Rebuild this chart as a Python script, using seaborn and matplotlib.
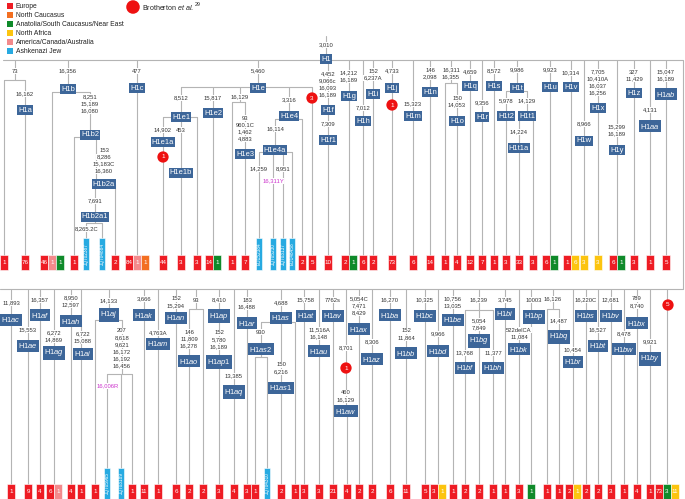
import re
import matplotlib
matplotlib.use("Agg")
import matplotlib.pyplot as plt
import seaborn as sns

# regions (legend order) and colours
region_codes = ["E", "C", "A", "N", "M", "J"]
region_names = ["Europe", "North Caucasus", "Anatolia/South Caucasus/Near East",
                "North Africa", "America/Canada/Australia", "Ashkenazi Jew"]
region_colors = ["#ee1c24", "#f36f21", "#0f8a2a", "#fcc40f", "#f38a8c", "#27aae1"]
color_of = dict(zip(region_codes, region_colors))

# ---------------- upper tree: (id, parent, label, mutations) ----------------
top_nodes = [
    ("H1", None, "H1", ["3,010"]),
    ("n73", "H1", "", ["73"]),
    ("H1a", "n73", "H1a", ["16,162"]),
    ("H1b", "H1", "H1b", ["16,356"]),
    ("H1b2", "H1b", "H1b2", ["8,251", "15,189", "16,080"]),
    ("H1b2a", "H1b2", "H1b2a", ["153", "8,286", "15,183C", "16,360"]),
    ("H1b2a1", "H1b2a", "H1b2a1", ["7,691"]),
    ("H1c", "H1", "H1c", ["477"]),
    ("H1e", "H1", "H1e", ["5,460"]),
    ("H1e1", "H1e", "H1e1", ["8,512"]),
    ("H1e1a", "H1e1", "H1e1a", ["14,902"]),
    ("H1e1b", "H1e1", "H1e1b", ["453"]),
    ("H1e2", "H1e", "H1e2", ["15,817"]),
    ("n16129", "H1e", "", ["16,129"]),
    ("H1e3", "n16129", "H1e3", ["93", "960.1C", "1,462", "4,883"]),
    ("H1e4", "H1e", "H1e4", ["3,316"]),
    ("H1e4a", "H1e4", "H1e4a", ["16,114"]),
    ("H1f", "H1", "H1f", ["4,452", "9,066c", "16,093", "16,189"]),
    ("H1f1", "H1f", "H1f1", ["7,309"]),
    ("H1g", "H1", "H1g", ["14,212", "16,189"]),
    ("H1h", "H1", "H1h", ["7,012"]),
    ("H1i", "H1", "H1i", ["152", "6,237A"]),
    ("H1j", "H1", "H1j", ["4,733"]),
    ("H1m", "H1", "H1m", ["15,323"]),
    ("H1n", "H1", "H1n", ["146", "2,098"]),
    ("n16311", "H1", "", ["16,311", "16,355"]),
    ("H1o", "n16311", "H1o", ["150", "14,053"]),
    ("H1q", "H1", "H1q", ["4,659"]),
    ("H1r", "H1", "H1r", ["9,356"]),
    ("H1s", "H1", "H1s", ["8,572"]),
    ("H1t", "H1", "H1t", ["9,986"]),
    ("H1t2", "H1t", "H1t2", ["5,978"]),
    ("H1t1", "H1t", "H1t1", ["14,129"]),
    ("H1t1a", "H1t1", "H1t1a", ["14,224"]),
    ("H1u", "H1", "H1u", ["9,923"]),
    ("H1v", "H1", "H1v", ["10,314"]),
    ("H1w", "H1", "H1w", ["8,966"]),
    ("H1x", "H1", "H1x", ["7,705", "10,410A", "16,037", "16,256"]),
    ("H1y", "H1", "H1y", ["15,299", "16,189"]),
    ("H1z", "H1", "H1z", ["327", "11,429"]),
    ("H1aa", "H1", "H1aa", ["4,131"]),
    ("H1ab", "H1", "H1ab", ["15,047", "16,189"]),
]

top_leaf_parent = ["n73", "H1a", "H1b", "H1b2", "H1b2a1", "H1b2a1", "H1b2a", "H1c", "H1e1a", "H1e1b",
                   "H1e1", "H1e2", "n16129", "H1e3", "H1e4a", "H1e4a", "H1e4a", "H1e4a", "H1e4", "H1e",
                   "H1f1", "H1g", "H1h", "H1i", "H1j", "H1m", "H1n", "n16311", "H1o", "H1q",
                   "H1r", "H1s", "H1t2", "H1t1a", "H1t1", "H1u", "H1v", "H1w", "H1x", "H1y",
                   "H1z", "H1aa", "H1ab"]
top_leaf_counts = [[1], [76], [46, 1, 1], [1], ["JQ702387"], ["JQ704884"], [2], [84, 1, 1], [44], [3],
                   [3], [14, 1], [1], [7], ["EU152384"], ["JQ705230"], ["JQ703137"], ["EU148458"], [2], [5],
                   [10], [2, 1], [6], [2], [73], [6], [14], [1], [4], [12],
                   [7], [1], [3], [33], [3], [6, 1], [1, 6], [3], [3], [6, 1],
                   [3], [1], [5]]
top_leaf_regions = ["E", "E", "EMA", "E", "J", "J", "E", "EMC", "E", "E",
                    "E", "EA", "E", "E", "J", "J", "J", "J", "E", "E",
                    "E", "EA", "E", "E", "E", "E", "E", "E", "E", "E",
                    "E", "E", "E", "E", "E", "EA", "EN", "N", "N", "EA",
                    "E", "E", "E"]

# ---------------- lower tree ----------------
low_nodes = [
    ("H1L", None, "", []),
    ("H1ac", "H1L", "H1ac", ["11,893"]),
    ("H1ae", "H1L", "H1ae", ["15,553"]),
    ("H1af", "H1L", "H1af", ["16,357"]),
    ("H1ag", "H1L", "H1ag", ["6,272", "14,869"]),
    ("H1ah", "H1L", "H1ah", ["8,950", "12,597"]),
    ("H1ai", "H1L", "H1ai", ["6,722", "15,088"]),
    ("H1aj", "H1L", "H1aj", ["14,133"]),
    ("n207", "H1aj", "", ["207", "8,618", "9,621", "16,172", "16,192", "16,456"]),
    ("H1ak", "H1L", "H1ak", ["3,666"]),
    ("H1am", "H1L", "H1am", ["4,763A"]),
    ("H1an", "H1L", "H1an", ["152", "15,294"]),
    ("n93", "H1L", "", ["93"]),
    ("H1ao", "n93", "H1ao", ["146", "11,809", "16,278"]),
    ("H1ap", "H1L", "H1ap", ["8,410"]),
    ("H1ap1", "H1ap", "H1ap1", ["152", "5,780", "16,189"]),
    ("H1aq", "H1L", "H1aq", ["13,385"]),
    ("H1ar", "H1L", "H1ar", ["183", "16,488"]),
    ("H1as", "H1L", "H1as", ["4,688"]),
    ("H1as2", "H1as", "H1as2", ["930"]),
    ("H1as1", "H1as", "H1as1", ["150", "6,216"]),
    ("H1at", "H1L", "H1at", ["15,758"]),
    ("H1au", "H1L", "H1au", ["11,516A", "16,148"]),
    ("H1av", "H1L", "H1av", ["7762s"]),
    ("n8701", "H1L", "", ["8,701"]),
    ("H1aw", "n8701", "H1aw", ["460", "16,129"]),
    ("H1ax", "H1L", "H1ax", ["5,054C", "7,471", "8,429"]),
    ("H1az", "H1L", "H1az", ["8,306"]),
    ("H1ba", "H1L", "H1ba", ["16,270"]),
    ("H1bb", "H1L", "H1bb", ["152", "11,864"]),
    ("H1bc", "H1L", "H1bc", ["10,325"]),
    ("H1bd", "H1L", "H1bd", ["9,966"]),
    ("H1be", "H1L", "H1be", ["10,756", "13,035"]),
    ("n16239", "H1L", "", ["16,239"]),
    ("H1bf", "n16239", "H1bf", ["13,768"]),
    ("H1bg", "n16239", "H1bg", ["5,054", "7,849"]),
    ("H1bh", "n16239", "H1bh", ["11,377"]),
    ("H1bi", "H1L", "H1bi", ["3,745"]),
    ("H1bk", "H1L", "H1bk", ["522delCA", "11,084"]),
    ("H1bp", "H1L", "H1bp", ["10003"]),
    ("n16126", "H1L", "", ["16,126"]),
    ("H1bq", "n16126", "H1bq", ["14,487"]),
    ("H1br", "H1L", "H1br", ["10,454"]),
    ("H1bs", "H1L", "H1bs", ["16,220C"]),
    ("H1bt", "H1L", "H1bt", ["16,527"]),
    ("H1bv", "H1L", "H1bv", ["12,681"]),
    ("H1bw", "H1L", "H1bw", ["8,478"]),
    ("H1bx", "H1L", "H1bx", ["789", "8,740"]),
    ("H1by", "H1L", "H1by", ["9,921"]),
]

low_leaf_parent = ["H1ac", "H1ae", "H1af", "H1ag", "H1ah", "H1ai", "H1aj", "n207", "n207", "n207",
                   "H1ak", "H1am", "H1an", "H1ao", "n93", "H1ap1", "H1aq", "H1ar", "H1as2", "H1as2",
                   "H1as1", "H1as", "H1at", "H1au", "H1av", "H1aw", "H1ax", "H1az", "H1ba", "H1bb",
                   "H1bc", "H1bd", "H1be", "H1bf", "H1bg", "H1bh", "H1bi", "H1bk", "H1bp", "n16126",
                   "H1bq", "H1br", "H1bs", "H1bt", "H1bv", "H1bw", "H1bx", "H1by", "H1L"]
low_leaf_counts = [[1], [9], [4], [6, 1], [4], [1], [1], ["JQ705965"], ["JQ703189"], [1],
                   [11], [1], [6], [2], [2], [3], [4], [3], [1], ["JQ704310"],
                   [2], [1], [3], [3], [21], [4], [2], [2], [6], [11],
                   [5], [3, 1], [1], [2], [2], [1], [1], [3], [1], [1],
                   [1], [2, 1], [2], [2], [3], [1], [4], [1], [73, 3, 11]]
low_leaf_regions = ["E", "E", "E", "EM", "E", "E", "E", "J", "J", "E",
                    "E", "E", "E", "E", "E", "E", "E", "E", "E", "J",
                    "E", "E", "E", "E", "E", "E", "E", "E", "E", "E",
                    "E", "EN", "E", "E", "E", "E", "E", "E", "A", "E",
                    "E", "EN", "E", "E", "E", "E", "E", "E", "EAN"]

# mutations written on single sample branches, and Brotherton et al. counts
branch_notes = ["8,265.2C", "14,259", "8,951", "16,311Y", "16,006R"]
brotherton_counts = ["1", "3", "1", "1", "5"]

# ---------------- layout (pixel grid of the 685 x 499 figure) ----------------
# id: (stem x, branch y, label y, first mutation y[, label x])
top_layout = {
    "H1": (326, 60, 59, 45), "n73": (15, 80, None, 71), "H1a": (25, 110, 110, 94),
    "H1b": (68, 92, 89, 71), "H1b2": (90, 137, 135, 97), "H1b2a": (96, 184, 184, 150, 104),
    "H1b2a1": (95, 223, 217, 201), "H1c": (137, 88, 88, 71), "H1e": (258, 87, 88, 71),
    "H1e1": (181, 117, 117, 98), "H1e1a": (163, 142, 142, 130), "H1e1b": (181, 173, 173, 130),
    "H1e2": (213, 113, 113, 98), "n16129": (240, 102, None, 97), "H1e3": (245, 154, 154, 118),
    "H1e4": (289, 119, 116, 100), "H1e4a": (275, 152, 150, 129), "H1f": (328, 110, 110, 74),
    "H1f1": (328, 140, 140, 124), "H1g": (349, 96, 96, 73), "H1h": (363, 121, 121, 108),
    "H1i": (373, 94, 94, 71), "H1j": (392, 88, 88, 71), "H1m": (413, 116, 116, 104),
    "H1n": (430, 92, 92, 70), "n16311": (451, 83, None, 70), "H1o": (457, 121, 121, 98),
    "H1q": (470, 86, 86, 72), "H1r": (482, 117, 117, 103), "H1s": (494, 86, 86, 71),
    "H1t": (517, 91, 88, 70), "H1t2": (506, 116, 116, 101), "H1t1": (527, 119, 116, 101),
    "H1t1a": (519, 148, 148, 132), "H1u": (550, 87, 87, 70), "H1v": (571, 87, 87, 73),
    "H1w": (584, 141, 141, 124), "H1x": (598, 108, 108, 72), "H1y": (617, 150, 150, 127),
    "H1z": (634, 93, 93, 72), "H1aa": (650, 126, 126, 110), "H1ab": (666, 94, 94, 72),
}
top_leaf_x = [4, 25, 52, 74, 86, 102, 115, 137, 163, 181,
              197, 213, 232, 245, 259, 273, 283, 292, 302, 312,
              328, 349, 363, 373, 392, 413, 430, 445, 457, 470,
              482, 494, 506, 519, 533, 550, 571, 584, 598, 617,
              634, 650, 666]

low_layout = {
    "H1L": (683, 289, None, None), "H1ac": (11, 320, 320, 303), "H1ae": (28, 346, 346, 330),
    "H1af": (40, 315, 315, 300), "H1ag": (54, 353, 353, 333), "H1ah": (71, 321, 321, 298),
    "H1ai": (81, 354, 354, 334, 83), "H1aj": (109, 320, 315, 301), "n207": (122, 374, None, 331),
    "H1ak": (144, 315, 315, 299), "H1am": (158, 344, 344, 333), "H1an": (176, 318, 318, 299),
    "n93": (196, 309, None, 300), "H1ao": (189, 361, 361, 332), "H1ap": (219, 316, 316, 300),
    "H1ap1": (219, 362, 362, 333), "H1aq": (234, 392, 392, 376), "H1ar": (247, 323, 323, 300),
    "H1as": (281, 322, 318, 303), "H1as2": (261, 357, 349, 332), "H1as1": (281, 388, 388, 365),
    "H1at": (304, 316, 316, 300, 306), "H1au": (319, 351, 351, 330), "H1av": (333, 316, 316, 300),
    "n8701": (346, 368, None, 348), "H1aw": (346, 411, 411, 393), "H1ax": (359, 329, 329, 299),
    "H1az": (372, 359, 359, 342), "H1ba": (390, 315, 315, 300), "H1bb": (406, 353, 353, 331),
    "H1bc": (425, 316, 316, 300), "H1bd": (438, 351, 351, 334), "H1be": (453, 320, 320, 299),
    "n16239": (479, 310, None, 300), "H1bf": (465, 368, 368, 353), "H1bg": (479, 341, 341, 321),
    "H1bh": (493, 368, 368, 353), "H1bi": (505, 314, 314, 300), "H1bk": (519, 349, 349, 330),
    "H1bp": (531, 317, 317, 300, 534), "n16126": (553, 309, None, 299), "H1bq": (559, 337, 337, 321),
    "H1br": (573, 362, 362, 350), "H1bs": (586, 316, 316, 300), "H1bt": (598, 346, 346, 330),
    "H1bv": (611, 316, 316, 300), "H1bw": (624, 349, 349, 334), "H1bx": (637, 323, 323, 299),
    "H1by": (650, 359, 359, 342),
}
low_leaf_x = [11, 28, 40, 54, 71, 81, 95, 107, 121, 132,
              144, 158, 176, 189, 203, 219, 234, 247, 255, 267,
              281, 295, 304, 319, 333, 347, 359, 372, 390, 406,
              425, 438, 453, 465, 479, 493, 505, 519, 531, 547,
              559, 573, 586, 598, 611, 624, 637, 650, 667]

branch_note_pos = [(87, 229), (259, 169), (283, 169), (273, 181), (108, 386)]
branch_note_colors = ["#333333", "#333333", "#333333", "#cc33cc", "#cc33cc"]
brotherton_pos = [(163, 157), (312, 98), (392, 105), (346, 368), (668, 305)]

LINE = "#b4b4b4"
NAME_BG = "#3d6699"
TEXT = "#333333"
MUT_FS = 4.2
NAME_FS = 5.4

sns.set_theme(style="white")
plt.rcParams["font.family"] = ["Liberation Sans", "DejaVu Sans"]
plt.rcParams["mathtext.fontset"] = "custom"
plt.rcParams["mathtext.rm"] = "Liberation Sans"
plt.rcParams["mathtext.it"] = "Liberation Sans:italic"

fig = plt.figure(figsize=(6.85, 4.99), dpi=100)
ax = fig.add_axes([0, 0, 1, 1])
ax.set_xlim(0, 685)
ax.set_ylim(499, 0)
ax.axis("off")


def fmt_name(label):
    m = re.match(r"H1([a-z]{2})(.*)$", label)
    if m:
        return "H1$\\mathit{" + m.group(1) + "}$" + m.group(2)
    return label


def draw_panel(nodes, layout, leaf_x, leaf_parent, leaf_counts, leaf_regions,
               box_top, box_bottom, acc_top):
    kids = {n[0]: [] for n in nodes}
    for nid, par, label, muts in nodes:
        if par is not None:
            kids[par].append(layout[nid][0])
    for x, par in zip(leaf_x, leaf_parent):
        kids[par].append(x)

    for nid, par, label, muts in nodes:
        lay = layout[nid]
        x, end_y, name_y, mut_y = lay[:4]
        lx = lay[4] if len(lay) > 4 else x
        if par is not None:
            top = layout[par][1]
            ax.plot([x, x], [top, end_y], color=LINE, lw=0.8, zorder=1)
            xs = kids[nid] + [x]
            if max(xs) > min(xs):
                ax.plot([min(xs), max(xs)], [end_y, end_y], color=LINE, lw=0.8, zorder=1)
        for i, m in enumerate(muts):
            ax.text(lx, mut_y + i * 7, m, ha="center", va="center", fontsize=MUT_FS,
                    color=TEXT, zorder=2,
                    bbox=dict(boxstyle="square,pad=0.1", fc="white", ec="none"))
        if label:
            ax.text(lx, name_y, fmt_name(label), ha="center", va="center",
                    fontsize=NAME_FS, color="white", zorder=3,
                    bbox=dict(boxstyle="square,pad=0.15", fc=NAME_BG, ec="none"))

    for x, par, counts, regs in zip(leaf_x, leaf_parent, leaf_counts, leaf_regions):
        top = layout[par][1]
        if regs == "J":
            ax.plot([x, x], [top, acc_top], color=LINE, lw=0.8, zorder=1)
            ax.bar([x], [box_bottom - acc_top], width=6.5, bottom=acc_top,
                   color=color_of["J"], edgecolor="white", linewidth=0.4, zorder=3)
            ax.text(x, (acc_top + box_bottom) / 2, counts[0], rotation=90,
                    ha="center", va="center", fontsize=3.4, color="white", zorder=4)
            continue
        ax.plot([x, x], [top, box_top], color=LINE, lw=0.8, zorder=1)
        n = len(counts)
        xs = [x + (i - (n - 1) / 2) * 8 for i in range(n)]
        ax.bar(xs, [box_bottom - box_top] * n, width=8, bottom=box_top,
               color=[color_of[r] for r in regs], edgecolor="white", linewidth=0.4, zorder=3)
        for bx, c in zip(xs, counts):
            ax.text(bx, (box_top + box_bottom) / 2, str(c), ha="center", va="center",
                    fontsize=4.5, color="white", zorder=4)


# root line wraps from the upper row to the lower row
ax.plot([3, 683, 683, 0], [60, 60, 289, 289], color=LINE, lw=0.8, zorder=1)
ax.plot([326, 326], [36, 60], color=LINE, lw=0.8, zorder=1)

draw_panel(top_nodes, top_layout, top_leaf_x, top_leaf_parent, top_leaf_counts,
           top_leaf_regions, 255, 270, 238)
draw_panel(low_nodes, low_layout, low_leaf_x, low_leaf_parent, low_leaf_counts,
           low_leaf_regions, 484, 499, 468)

for (nx, ny), note, col in zip(branch_note_pos, branch_notes, branch_note_colors):
    ax.text(nx, ny, note, ha="center", va="center", fontsize=MUT_FS, color=col, zorder=2,
            bbox=dict(boxstyle="square,pad=0.1", fc="white", ec="none"))

# Brotherton et al. circles
sns.scatterplot(x=[p[0] for p in brotherton_pos], y=[p[1] for p in brotherton_pos],
                s=66, color="#ee1111", edgecolor="none", ax=ax, legend=False, zorder=5)
for (cx, cy), c in zip(brotherton_pos, brotherton_counts):
    ax.text(cx, cy, c, ha="center", va="center", fontsize=4.6, color="white", zorder=6)

# legend
for i, (name, col) in enumerate(zip(region_names, region_colors)):
    y = 6 + i * 9
    ax.bar([10], [6], width=6, bottom=y - 3, color=col, edgecolor="none", zorder=3)
    ax.text(16, y, name, ha="left", va="center", fontsize=4.9, color="#222222")
sns.scatterplot(x=[133], y=[7], s=95, color="#ee1111", edgecolor="none", ax=ax,
                legend=False, zorder=5)
ax.text(142, 7.5, "Brotherton $\\mathit{et\\ al.}$", ha="left", va="center",
        fontsize=5.1, color="#222222")
ax.text(195, 4, "29", ha="left", va="center", fontsize=3.8, color="#222222")

fig.savefig("out.png", dpi=100)
